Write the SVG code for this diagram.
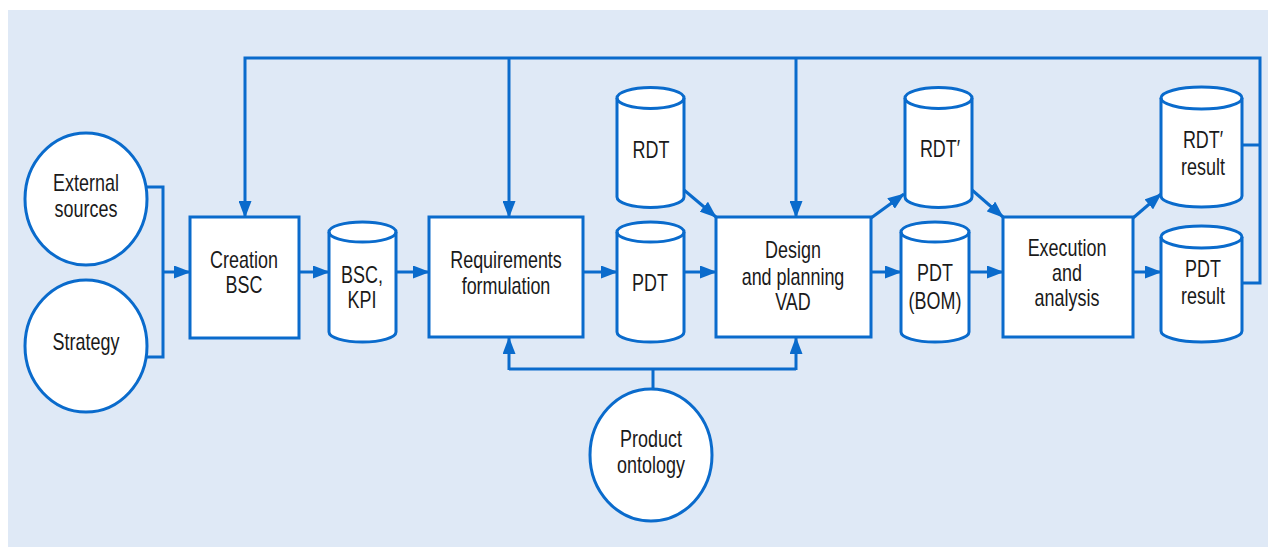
<svg xmlns="http://www.w3.org/2000/svg" width="1268" height="547" viewBox="0 0 1268 547">
<defs>
<style>
.bg{fill:#dfe9f6}
.n{fill:#fff;stroke:#0a6bcc;stroke-width:3}
.c{fill:none;stroke:#0a6bcc;stroke-width:3}
.t{font-family:"Liberation Sans",Arial,sans-serif;font-size:23px;fill:#1a1a1a;text-anchor:middle}
</style>
<marker id="ah" markerUnits="userSpaceOnUse" markerWidth="17" markerHeight="13" refX="16" refY="6.5" orient="auto">
<path d="M0,0 L17,6.5 L0,13 z" fill="#0a6bcc"/>
</marker>
</defs>
<rect class="bg" x="8" y="10" width="1260" height="537"/>

<g id="connectors">
<polyline class="c" points="147,187 163,187 163,357 147,357"/>
<line class="c" x1="163" y1="272" x2="190" y2="272" marker-end="url(#ah)"/>
<line class="c" x1="299" y1="272" x2="329" y2="272" marker-end="url(#ah)"/>
<line class="c" x1="396" y1="272" x2="429" y2="272" marker-end="url(#ah)"/>
<line class="c" x1="583" y1="272" x2="617" y2="272" marker-end="url(#ah)"/>
<line class="c" x1="684" y1="272" x2="716" y2="272" marker-end="url(#ah)"/>
<line class="c" x1="871" y1="272" x2="901" y2="272" marker-end="url(#ah)"/>
<line class="c" x1="969" y1="272" x2="1003" y2="272" marker-end="url(#ah)"/>
<line class="c" x1="1133" y1="272" x2="1161" y2="272" marker-end="url(#ah)"/>
<line class="c" x1="684" y1="190" x2="716" y2="217" marker-end="url(#ah)"/>
<line class="c" x1="972" y1="190" x2="1003" y2="217" marker-end="url(#ah)"/>
<line class="c" x1="871" y1="218" x2="904" y2="194" marker-end="url(#ah)"/>
<line class="c" x1="1133" y1="218" x2="1161" y2="194" marker-end="url(#ah)"/>
<polyline class="c" points="1242,283 1260,283 1260,58 245,58 245,217" marker-end="url(#ah)"/>
<line class="c" x1="1242" y1="145" x2="1260" y2="145"/>
<line class="c" x1="509" y1="58" x2="509" y2="217" marker-end="url(#ah)"/>
<line class="c" x1="796" y1="58" x2="796" y2="217" marker-end="url(#ah)"/>
<line class="c" x1="653" y1="389" x2="653" y2="369"/>
<polyline class="c" points="509,369 796,369"/>
<line class="c" x1="509" y1="370" x2="509" y2="338" marker-end="url(#ah)"/>
<line class="c" x1="796" y1="370" x2="796" y2="338" marker-end="url(#ah)"/>
</g>

<g id="external-sources">
<ellipse class="n" cx="86" cy="199" rx="61" ry="66"/>
<text class="t" transform="translate(86 0) scale(0.78 1)" x="0" y="191">External</text>
<text class="t" transform="translate(86 0) scale(0.78 1)" x="0" y="217">sources</text>
</g>
<g id="strategy">
<ellipse class="n" cx="86" cy="346" rx="61" ry="66"/>
<text class="t" transform="translate(86 0) scale(0.78 1)" x="0" y="350">Strategy</text>
</g>
<g id="creation-bsc">
<rect class="n" x="190" y="217" width="109" height="121"/>
<text class="t" transform="translate(244 0) scale(0.78 1)" x="0" y="268">Creation</text>
<text class="t" transform="translate(244 0) scale(0.78 1)" x="0" y="293">BSC</text>
</g>
<g id="bsc-kpi">
<path class="n" d="M329,232 L329,332 A33.5,10 0 0 0 396,332 L396,232 A33.5,10 0 0 0 329,232 Z"/>
<path class="c" d="M329,232 A33.5,10 0 0 0 396,232"/>
<text class="t" transform="translate(362 0) scale(0.78 1)" x="0" y="283">BSC,</text>
<text class="t" transform="translate(362 0) scale(0.78 1)" x="0" y="308">KPI</text>
</g>
<g id="requirements">
<rect class="n" x="429" y="217" width="154" height="120"/>
<text class="t" transform="translate(506 0) scale(0.78 1)" x="0" y="268">Requirements</text>
<text class="t" transform="translate(506 0) scale(0.78 1)" x="0" y="294">formulation</text>
</g>
<g id="rdt">
<path class="n" d="M617,98 L617,197 A33.5,10.5 0 0 0 684,197 L684,98 A33.5,10.5 0 0 0 617,98 Z"/>
<path class="c" d="M617,98 A33.5,10.5 0 0 0 684,98"/>
<text class="t" transform="translate(651 0) scale(0.78 1)" x="0" y="158">RDT</text>
</g>
<g id="pdt">
<path class="n" d="M617,232 L617,332 A33.5,10 0 0 0 684,332 L684,232 A33.5,10 0 0 0 617,232 Z"/>
<path class="c" d="M617,232 A33.5,10 0 0 0 684,232"/>
<text class="t" transform="translate(650 0) scale(0.78 1)" x="0" y="291">PDT</text>
</g>
<g id="design">
<rect class="n" x="716" y="217" width="155" height="120"/>
<text class="t" transform="translate(793 0) scale(0.78 1)" x="0" y="258">Design</text>
<text class="t" transform="translate(793 0) scale(0.78 1)" x="0" y="285">and planning</text>
<text class="t" transform="translate(793 0) scale(0.78 1)" x="0" y="310">VAD</text>
</g>
<g id="rdt-prime">
<path class="n" d="M905,98 L905,197 A33.5,10.5 0 0 0 972,197 L972,98 A33.5,10.5 0 0 0 905,98 Z"/>
<path class="c" d="M905,98 A33.5,10.5 0 0 0 972,98"/>
<text class="t" transform="translate(940 0) scale(0.78 1)" x="0" y="157">RDT′</text>
</g>
<g id="pdt-bom">
<path class="n" d="M901,232 L901,332 A34,10 0 0 0 969,332 L969,232 A34,10 0 0 0 901,232 Z"/>
<path class="c" d="M901,232 A34,10 0 0 0 969,232"/>
<text class="t" transform="translate(935 0) scale(0.78 1)" x="0" y="281">PDT</text>
<text class="t" transform="translate(935 0) scale(0.78 1)" x="0" y="309">(BOM)</text>
</g>
<g id="execution">
<rect class="n" x="1003" y="217" width="130" height="120"/>
<text class="t" transform="translate(1067 0) scale(0.78 1)" x="0" y="256">Execution</text>
<text class="t" transform="translate(1067 0) scale(0.78 1)" x="0" y="281">and</text>
<text class="t" transform="translate(1067 0) scale(0.78 1)" x="0" y="306">analysis</text>
</g>
<g id="rdt-prime-result">
<path class="n" d="M1161,98 L1161,196 A40.5,11 0 0 0 1242,196 L1242,98 A40.5,11 0 0 0 1161,98 Z"/>
<path class="c" d="M1161,98 A40.5,11 0 0 0 1242,98"/>
<text class="t" transform="translate(1203 0) scale(0.78 1)" x="0" y="148">RDT′</text>
<text class="t" transform="translate(1203 0) scale(0.78 1)" x="0" y="175">result</text>
</g>
<g id="pdt-result">
<path class="n" d="M1161,237 L1161,331 A40.5,11 0 0 0 1242,331 L1242,237 A40.5,11 0 0 0 1161,237 Z"/>
<path class="c" d="M1161,237 A40.5,11 0 0 0 1242,237"/>
<text class="t" transform="translate(1203 0) scale(0.78 1)" x="0" y="277">PDT</text>
<text class="t" transform="translate(1203 0) scale(0.78 1)" x="0" y="304">result</text>
</g>
<g id="product-ontology">
<ellipse class="n" cx="651" cy="455" rx="61" ry="66"/>
<text class="t" transform="translate(651 0) scale(0.78 1)" x="0" y="447">Product</text>
<text class="t" transform="translate(651 0) scale(0.78 1)" x="0" y="473">ontology</text>
</g>
</svg>
